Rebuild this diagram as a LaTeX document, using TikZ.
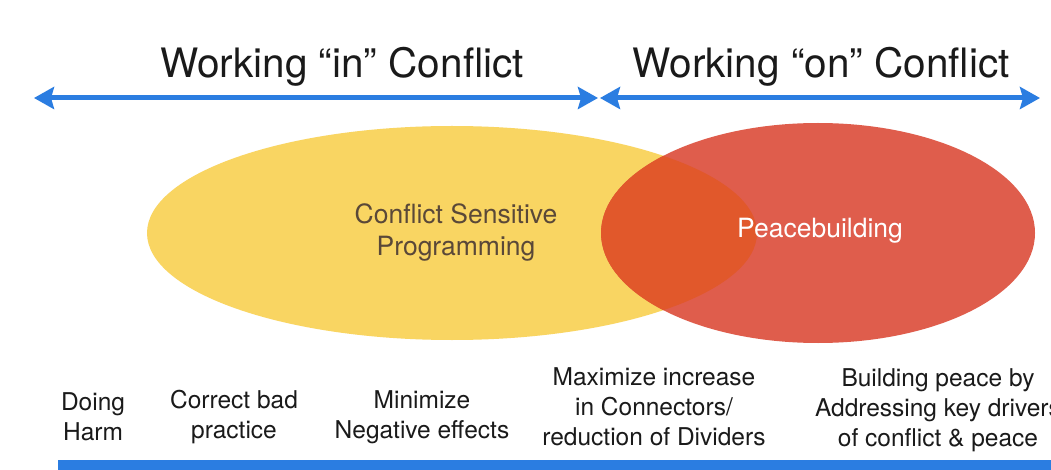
\documentclass[tikz,border=0pt]{standalone}
\usepackage{fontspec}
\setmainfont{TeX Gyre Heros}
\usetikzlibrary{arrows.meta}
\definecolor{ablue}{HTML}{2B7DE1}
\definecolor{cyel}{HTML}{F9D562}
\definecolor{cred}{HTML}{DF5D4C}
\definecolor{cover}{HTML}{E1582B}
\definecolor{ctext}{HTML}{5A4838}
\definecolor{ltext}{HTML}{1A1A1A}
\begin{document}
\begin{tikzpicture}[x=1pt,y=-1pt,
  title/.style={font=\fontsize{40.5}{48}\selectfont, anchor=base, inner sep=0pt, text=ltext},
  lab/.style={font=\fontsize{24.5}{30}\selectfont, align=center, inner sep=0pt, text=ltext},
  inlab/.style={font=\fontsize{26.5}{32}\selectfont, align=center, inner sep=0pt},
  bigtip/.tip={Stealth[length=20pt,width=22pt,inset=3pt]},
  barrow/.style={draw=ablue, line width=5pt, bigtip-bigtip}]
\useasboundingbox (0,0) rectangle (1051,470);
\clip (0,0) rectangle (1051,470);
\fill[white] (0,0) rectangle (1051,470);

% ellipses
\fill[cyel] (452,233) ellipse [x radius=305pt, y radius=107pt];
\fill[cred] (818,233) ellipse [x radius=217pt, y radius=110pt];
\begin{scope}
  \clip (452,233) ellipse [x radius=305pt, y radius=107pt];
  \fill[cover] (818,233) ellipse [x radius=217pt, y radius=110pt];
\end{scope}

% titles
\node[title] (tin) at (342,78) {Working “in” Conflict};
\node[title] (ton) at (821,78) {Working “on” Conflict};

% arrows
\coordinate (aL) at (34,98);
\coordinate (aM1) at (598,98);
\coordinate (aM2) at (600,98);
\coordinate (aR) at (1040,98);
\draw[barrow] (aL) -- (aM1);
\draw[barrow] (aM2) -- (aR);

% ellipse labels
\node[inlab, text=ctext] (csp) at (456,232) {Conflict Sensitive\\Programming};
\node[inlab, text=white] (pb) at (820,231) {Peacebuilding};

% bottom labels
\node[lab] (l1) at (93,417) {Doing\\Harm};
\node[lab] (l2) at (234,417) {Correct bad\\practice};
\node[lab] (l3) at (422,417) {Minimize\\Negative effects};
\node[lab] (l4) at (654,407) {Maximize increase\\in Connectors/\\reduction of Dividers};
\node[lab] (l5) at (938,410) {Building peace by\\Addressing key drivers\\of conflict \& peace};

% bottom bar
\coordinate (b1) at (58,460);
\coordinate (b2) at (1051,470);
\fill[ablue] (b1) rectangle (b2);
\end{tikzpicture}
\end{document}
